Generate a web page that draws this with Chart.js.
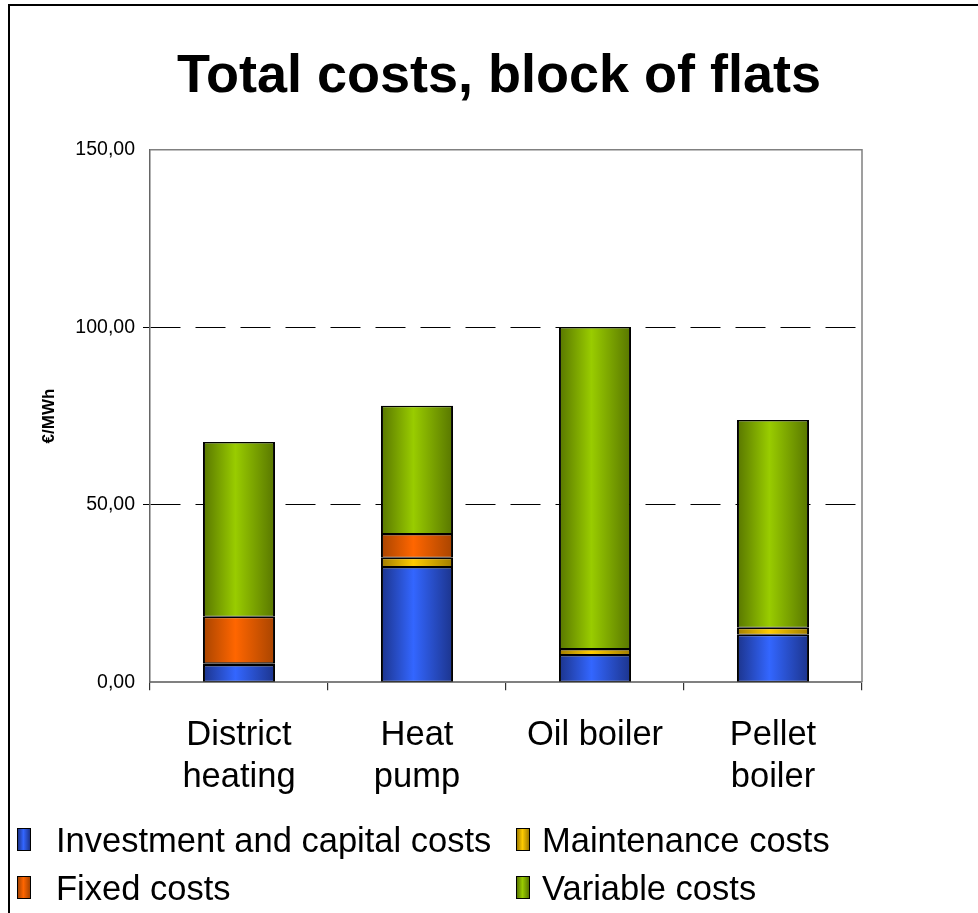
<!DOCTYPE html>
<html>
<head>
<meta charset="utf-8">
<script src="https://cdn.jsdelivr.net/npm/chart.js@4.4.1/dist/chart.umd.min.js"></script>
<style>
  html, body { margin: 0; padding: 0; background: #fff; overflow: hidden; }
  body { width: 978px; height: 913px; position: relative; font-family: "Liberation Sans", Arial, sans-serif; }
  #frame { position: absolute; left: 8px; top: 4px; width: 1000px; height: 1000px; border: 2px solid #000; }
  #wrap { position: absolute; left: 0; top: 0; width: 978px; height: 907px; }
  #legend { position: absolute; left: 0; top: 0; width: 978px; height: 913px; pointer-events: none; }
  .key { position: absolute; width: 12px; height: 21px; border: 1.5px solid #000; }
  .txt { position: absolute; font-size: 34.5px; line-height: 40px; color: #000; white-space: nowrap; }
</style>
</head>
<body>
<div id="frame"><div id="wrap"><canvas id="chart"></canvas></div></div>
<div id="legend"></div>
<script>
// categories and values (€/MWh)
const categories = [['District', 'heating'], ['Heat', 'pump'], 'Oil boiler', ['Pellet', 'boiler']];
const investment = [4.9, 32.5, 7.7, 13.4];
const maintenance = [0.5, 2.6, 1.7, 2.0];
const fixedCosts = [13.1, 6.7, null, null];
const variableCosts = [49.2, 36.1, 90.7, 58.5];
const yTicks = [0, 50, 100, 150];

const seriesNames = ['Investment and capital costs', 'Maintenance costs', 'Fixed costs', 'Variable costs'];
// [dark edge, bright middle]
const seriesColors = [
  ['#1c348c', '#3366ff'],
  ['#a07c00', '#ffcc00'],
  ['#a84400', '#ff6600'],
  ['#587600', '#99cc00']
];

const catPct = 0.81, barPct = 0.5;
const FONT = '"Liberation Sans", Arial, sans-serif';

function barGradient(colors) {
  return function (ctx) {
    const chart = ctx.chart;
    const xs = chart.scales && chart.scales.x;
    if (!chart.chartArea || !xs || ctx.type !== 'data') return colors[1];
    const cx = xs.getPixelForValue(ctx.dataIndex);
    const w = xs.width / categories.length * catPct * barPct;
    const g = chart.ctx.createLinearGradient(cx - w / 2, 0, cx + w / 2, 0);
    g.addColorStop(0, colors[0]);
    g.addColorStop(0.45, colors[1]);
    g.addColorStop(1, colors[0]);
    return g;
  };
}

const dataSets = [investment, maintenance, fixedCosts, variableCosts].map((vals, i) => ({
  label: seriesNames[i],
  data: vals,
  backgroundColor: barGradient(seriesColors[i]),
  borderColor: '#000',
  borderWidth: { left: 2, right: 2, top: 1.5, bottom: 1 },
  borderSkipped: false,
  categoryPercentage: catPct,
  barPercentage: barPct
}));

// grey frame round the plot area (top and right)
const plotFrame = {
  id: 'plotFrame',
  afterDatasetsDraw(chart) {
    const a = chart.chartArea, c = chart.ctx;
    c.save();
    c.strokeStyle = '#808080';
    c.lineWidth = 1.5;
    c.beginPath();
    c.moveTo(a.left, a.top);
    c.lineTo(a.right, a.top);
    c.lineTo(a.right, a.bottom);
    c.stroke();
    c.restore();
  }
};

new Chart(document.getElementById('chart'), {
  type: 'bar',
  data: { labels: categories, datasets: dataSets },
  plugins: [plotFrame],
  options: {
    responsive: true,
    maintainAspectRatio: false,
    animation: false,
    layout: { padding: { left: 0, right: 0, top: 0, bottom: 90.5 } },
    plugins: {
      legend: { display: false },
      tooltip: { enabled: false },
      title: {
        display: true,
        text: 'Total costs, block of flats',
        color: '#000',
        font: { family: FONT, size: 54, weight: 'bold' },
        padding: { top: 39, bottom: 40 }
      }
    },
    scales: {
      x: {
        stacked: true,
        grid: { drawOnChartArea: false, tickLength: 8, color: '#333', lineWidth: 1.2 },
        border: { color: '#808080', width: 2 },
        ticks: {
          color: '#000',
          padding: 24,
          maxRotation: 0,
          font: { family: FONT, size: 34.5, lineHeight: 1.22 }
        }
      },
      y: {
        stacked: true,
        min: 0,
        max: 150,
        afterFit(scale) { scale.width = 140; },
        afterBuildTicks(scale) { scale.ticks = yTicks.map(v => ({ value: v })); },
        grid: {
          tickLength: 7,
          lineWidth: 1,
          color: ctx => (ctx.tick && (ctx.tick.value === 0 || ctx.tick.value === 150)) ? 'rgba(0,0,0,0)' : '#000'
        },
        border: { color: '#666', width: 1.5, dash: [30, 15] },
        ticks: {
          color: '#000',
          padding: 8,
          font: { family: FONT, size: 19.5 },
          callback: v => v.toFixed(2).replace('.', ',')
        },
        title: {
          display: true,
          text: '€/MWh',
          color: '#000',
          padding: { top: 29, bottom: 0 },
          font: { family: FONT, size: 17, weight: 'bold' }
        }
      },
      // empty space on the right so the title stays centred on the whole frame
      spacer: {
        position: 'right',
        afterFit(scale) { scale.width = 126; },
        grid: { display: false },
        border: { display: false },
        ticks: { display: false }
      }
    }
  }
});

// legend laid out in two aligned columns, as in the picture
const keyPos = [[17, 828], [516, 828], [17, 876], [516, 876]];
const textPos = [[56, 820], [542, 820], [56, 868], [542, 868]];
const legendEl = document.getElementById('legend');
seriesNames.forEach((name, s) => {
  const key = document.createElement('div');
  key.className = 'key';
  key.style.left = keyPos[s][0] + 'px';
  key.style.top = keyPos[s][1] + 'px';
  const c = seriesColors[s];
  key.style.background = 'linear-gradient(to right, ' + c[0] + ', ' + c[1] + ' 45%, ' + c[0] + ')';
  const txt = document.createElement('div');
  txt.className = 'txt';
  txt.style.left = textPos[s][0] + 'px';
  txt.style.top = textPos[s][1] + 'px';
  txt.textContent = name;
  legendEl.appendChild(key);
  legendEl.appendChild(txt);
});
</script>
</body>
</html>
